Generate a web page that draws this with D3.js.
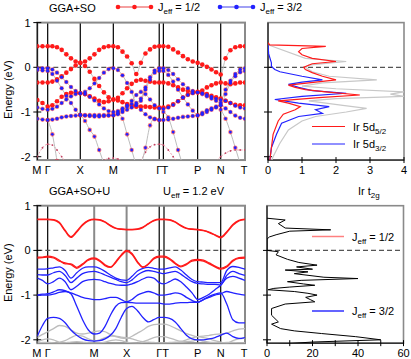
<!DOCTYPE html>
<html>
<head>
<meta charset="utf-8">
<script src="https://cdn.jsdelivr.net/npm/d3@7"></script>
<style>
  body { margin: 0; background: #fff; }
  svg { font-family: "Liberation Sans", Arial, sans-serif; }
</style>
</head>
<body>
<div id="chart"></div>
<script>
// ---- k-path (fraction of path length) ----
const topLabels = ["M", "Γ", "X", "M", "Γ", "T", "P", "N", "T"];
const topKnots = [0, 0.050, 0.207, 0.366, 0.587, 0.607, 0.772, 0.883, 1.0];
const topSteps = [2, 7, 7, 10, 1, 7, 5, 5];

const botLabels = ["M", "Γ", "M", "X", "Γ", "T", "P", "N", "T"];
const botKnots = [0, 0.050, 0.274, 0.430, 0.587, 0.610, 0.772, 0.883, 1.0];
const botSteps = [2, 8, 6, 6, 1, 6, 4, 4];

// ---- GGA+SO bands (eV), one value per k-point ----
const topRed1 = [0.47,0.47,0.47, 0.47,0.45,0.39,0.29,0.2,0.13,0.1, 0.13,0.2,0.29,0.39,0.45,0.47,0.47,
  0.45,0.35,0.24,0.09,-0.15,0.1,0.31,0.4,0.46,0.47, 0.47, 0.46,0.4,0.33,0.25,0.18,0.13,0.1,
  0.06,0.01,-0.05,-0.11,-0.16, 0.2,0.38,0.45,0.47,0.47];
const topRed2 = [-0.34,-0.34,-0.34, -0.32,-0.27,-0.2,-0.12,-0.04,0.04,0.1, 0.03,-0.1,-0.26,-0.42,-0.56,-0.67,-0.72,
  -0.68,-0.58,-0.47,-0.37,-0.3,-0.28,-0.3,-0.32,-0.34,-0.34, -0.34, -0.36,-0.4,-0.45,-0.5,-0.53,-0.55,-0.56,
  -0.52,-0.45,-0.4,-0.36,-0.34, -0.36,-0.38,-0.36,-0.34,-0.34];
const topRed3 = [-0.73,-0.8,-0.88, -0.85,-0.76,-0.66,-0.6,-0.57,-0.57,-0.58, -0.6,-0.65,-0.7,-0.75,-0.78,-0.76,-0.72,
  -0.74,-0.78,-0.82,-0.86,-0.88,-0.88,-0.88,-0.89,-0.9,-0.9, -0.9, -0.88,-0.83,-0.76,-0.68,-0.61,-0.57,-0.55,
  -0.57,-0.6,-0.64,-0.67,-0.7, -0.75,-0.8,-0.84,-0.85,-0.85];
const topBlue1 = [-0.02,-0.02,-0.02, -0.05,-0.12,-0.22,-0.33,-0.44,-0.53,-0.58, -0.55,-0.47,-0.36,-0.24,-0.12,-0.04,-0.02,
  -0.06,-0.18,-0.35,-0.55,-0.8,-0.7,-0.45,-0.22,-0.07,-0.02, -0.02, -0.06,-0.15,-0.27,-0.38,-0.47,-0.53,-0.56,
  -0.58,-0.62,-0.66,-0.7,-0.73, -0.5,-0.3,-0.15,-0.05,-0.02];
const topBlue2 = [-0.06,-0.07,-0.08, -0.15,-0.3,-0.47,-0.64,-0.8,-0.95,-1.06, -1.07,-1.07,-1.07,-1.07,-1.07,-1.07,-1.07,
  -1.05,-1.0,-0.95,-0.9,-0.85,-0.75,-0.5,-0.28,-0.12,-0.08, -0.08, -0.17,-0.32,-0.5,-0.67,-0.83,-0.97,-1.07,
  -1.02,-0.96,-0.92,-0.88,-0.85, -0.6,-0.35,-0.2,-0.11,-0.08];
const topBlue3 = [-1.15,-1.17,-1.18, -1.17,-1.15,-1.12,-1.1,-1.09,-1.08,-1.07, -1.08,-1.09,-1.1,-1.1,-1.09,-1.08,-1.07,
  -1.02,-0.95,-0.88,-0.82,-0.85,-0.95,-1.05,-1.12,-1.16,-1.18, -1.18, -1.17,-1.15,-1.13,-1.11,-1.1,-1.09,-1.08,
  -1.05,-1.0,-0.95,-0.9,-0.85, -0.92,-1.0,-1.08,-1.13,-1.15];
const topBlue4 = [-0.9,-0.93,-0.95, -0.93,-0.88,-0.8,-0.72,-0.65,-0.6,-0.58, -0.6,-0.66,-0.74,-0.83,-0.92,-0.98,-1.0,
  -0.98,-0.92,-0.85,-0.75,-0.62,-0.55,-0.6,-0.72,-0.85,-0.92, -0.93, -0.9,-0.84,-0.76,-0.68,-0.62,-0.58,-0.56,
  -0.6,-0.65,-0.7,-0.75,-0.8, -0.75,-0.8,-0.86,-0.9,-0.92];
const topSteep1 = [null,null,-1.18, -1.5,-2.1,null,null,null,null,null, null,null,null,null,null,null,null,
  -1.02,-1.15,-1.5,-1.85,-2.2,null,null,null,null,null, -1.0, -1.12,-1.45,-1.85,-2.2,null,null,null,
  null,null,null,null,null, null,null,null,null,null];
const topSteep2 = [null,null,null, null,null,null,null,null,null,-1.07, -1.2,-1.4,-1.55,-1.85,-2.15,null,null,
  null,null,null,null,null,-2.2,-1.8,-1.3,-1.15,-1.18, null, null,null,null,null,null,null,null,
  null,null,null,null,-0.95, -1.15,-1.45,-1.8,-2.15,null];
const topLow = [-2.0,-1.8,-1.72, -1.74,-1.85,-2.0,-2.15,null,null,null, null,null,null,-2.15,-2.08,-2.04,-2.03,
  -2.05,-2.1,-2.15,null,null,-2.1,-1.9,-1.78,-1.73,-1.72, -1.74, -1.85,-2.0,-2.15,null,null,null,null,
  null,null,null,-2.1,-2.0, -1.92,-1.87,-1.85,-1.85,-1.85];

// ---- GGA+SO+U bands (eV) ----
const botRed1 = [0.7,0.7,0.7, 0.69,0.63,0.45,0.31,0.43,0.58,0.67,0.7, 0.69,0.64,0.56,0.5,0.48,0.47,
  0.47,0.48,0.52,0.6,0.67,0.7, 0.7, 0.69,0.64,0.56,0.5,0.48,0.47, 0.45,0.41,0.35,0.3, 0.42,0.58,0.67,0.7];
const botRed2 = [0.69,0.69,0.69, 0.68,0.61,0.43,0.29,0.41,0.56,0.66,0.69, 0.68,0.63,0.55,0.49,0.47,0.46,
  0.46,0.47,0.51,0.59,0.66,0.69, 0.69, 0.68,0.63,0.55,0.49,0.47,0.46, 0.44,0.4,0.34,0.28, 0.4,0.56,0.66,0.69];
const botRed3 = [-0.15,-0.15,-0.13, -0.15,-0.22,-0.3,-0.3,-0.38,-0.3,-0.2,-0.17, -0.22,-0.32,-0.37,-0.25,-0.1,0.0,
  -0.07,-0.25,-0.37,-0.3,-0.17,-0.13, -0.13, -0.18,-0.28,-0.35,-0.3,-0.22,-0.2, -0.22,-0.28,-0.35,-0.4, -0.35,-0.22,-0.16,-0.15];
const botRed4 = [-0.17,-0.16,-0.15, -0.17,-0.24,-0.28,-0.32,-0.4,-0.32,-0.22,-0.19, -0.24,-0.34,-0.38,-0.27,-0.12,-0.02,
  -0.09,-0.27,-0.38,-0.31,-0.19,-0.15, -0.15, -0.2,-0.3,-0.37,-0.32,-0.24,-0.22, -0.24,-0.3,-0.37,-0.42, -0.37,-0.24,-0.18,-0.17];
const botBlue1 = [-0.42,-0.42,-0.41, -0.39,-0.37,-0.45,-0.62,-0.5,-0.4,-0.37,-0.37, -0.4,-0.47,-0.55,-0.62,-0.66,-0.67,
  -0.58,-0.46,-0.4,-0.38,-0.4,-0.42, -0.42, -0.39,-0.37,-0.44,-0.55,-0.65,-0.7, -0.71,-0.72,-0.72,-0.72, -0.45,-0.36,-0.38,-0.42];
const botBlue2 = [-0.54,-0.55,-0.55, -0.5,-0.47,-0.56,-0.72,-0.62,-0.52,-0.48,-0.47, -0.5,-0.55,-0.6,-0.65,-0.7,-0.72,
  -0.66,-0.55,-0.48,-0.45,-0.47,-0.5, -0.52, -0.49,-0.47,-0.53,-0.62,-0.7,-0.74, -0.75,-0.76,-0.76,-0.77, -0.56,-0.47,-0.52,-0.56];
const botBlue3 = [-0.62,-0.67,-0.75, -0.7,-0.62,-0.7,-0.88,-0.8,-0.7,-0.66,-0.65, -0.66,-0.7,-0.74,-0.77,-0.78,-0.78,
  -0.75,-0.7,-0.64,-0.6,-0.62,-0.72, -0.75, -0.7,-0.64,-0.7,-0.82,-0.95,-1.1, -1.05,-0.98,-0.88,-0.78, -0.62,-0.58,-0.62,-0.67];
const botBlue4 = [-1.0,-1.0,-1.0, -0.98,-0.94,-0.92,-0.95,-1.0,-1.05,-1.08,-1.1, -1.1,-1.08,-1.05,-1.05,-1.1,-1.15,
  -1.1,-1.0,-0.95,-0.92,-0.95,-1.0, -1.0, -0.98,-0.95,-0.97,-1.05,-1.12,-1.16, -1.1,-1.05,-1.0,-0.97, -0.92,-0.95,-0.98,-1.0];
const botBlue5 = [-1.0,-0.98,-0.97, -0.93,-0.88,-0.9,-0.97,-1.25,-1.55,-1.78,-1.87, -1.85,-1.7,-1.45,-1.25,-1.17,-1.16,
  -1.17,-1.18,-1.18,-1.18,-1.18,-1.18, -1.2, -1.2,-1.18,-1.17,-1.17,-1.16,-1.16, -1.1,-1.03,-0.98,-0.95, -1.2,-1.55,-1.62,-1.62];
const botBlue6 = [-1.92,-1.68,-1.52, -1.5,-1.52,-1.62,-1.78,-1.9,-1.98,-2.02,-2.03, -2.02,-1.98,-1.9,-1.75,-1.5,-1.3,
  -1.25,-1.35,-1.5,-1.6,-1.55,-1.5, -1.5, -1.52,-1.6,-1.75,-1.9,-1.98,-2.0, -2.0,-1.98,-1.95,-1.9, -1.85,-1.93,-1.97,-1.95];
const botGray1 = [-1.95,-1.88,-1.82, -1.75,-1.68,-1.7,-1.78,-1.85,-1.87,-1.85,-1.82, -1.8,-1.82,-1.88,-1.93,-1.96,-1.97,
  -1.92,-1.85,-1.78,-1.7,-1.66,-1.65, -1.65, -1.68,-1.74,-1.8,-1.86,-1.9,-1.93, -1.92,-1.9,-1.88,-1.87, -1.85,-1.8,-1.76,-1.75];
const botGray2 = [-2.05,-2.0,-1.98, -2.0,-2.05,-2.02,-1.95,-1.9,-1.92,-1.98,-2.02, -2.0,-1.95,-1.92,-1.92,-1.94,-1.95,
  -1.98,-2.02,-2.04,-2.0,-1.95,-1.93, -1.93, -1.96,-2.0,-2.03,-2.0,-1.96,-1.93, -1.95,-1.98,-2.02,-2.05, -2.08,-2.02,-1.98,-1.96];
const botGray3 = [-2.07,-2.06,-2.06, -2.07,-2.08,-2.07,-2.05,-2.04,-2.05,-2.07,-2.08, -2.07,-2.05,-2.02,-2.0,-2.02,-2.05,
  -2.07,-2.08,-2.06,-2.05,-2.06,-2.07, -2.07, -2.06,-2.05,-2.05,-2.04,-2.03,-2.0, -2.03,-2.05,-2.06,-2.07, -2.06,-2.06,-2.07,-2.07];

// ---- PDOS, [energy (eV), states] ----
const dos52 = [[0.55,0],[0.5,0.05],[0.47,1.7],[0.42,1.0],[0.35,0.9],[0.28,1.0],[0.2,1.3],[0.13,2.0],[0.08,1.3],
  [0.0,1.05],[-0.05,1.1],[-0.12,1.3],[-0.2,1.6],[-0.28,2.0],[-0.35,1.2],[-0.4,0.6],[-0.45,0.8],[-0.5,1.1],
  [-0.55,1.7],[-0.62,2.7],[-0.68,1.5],[-0.75,0.3],[-0.8,0.6],[-0.88,0.95],[-0.95,0.8],[-1.05,0.45],[-1.2,0.3],
  [-1.5,0.15],[-1.8,0.1],[-2.1,0.05]];
const dos32 = [[0.5,0],[0.3,0.02],[0.1,0.1],[0.02,0.1],[-0.05,0.2],[-0.1,0.35],[-0.2,1.0],[-0.28,1.6],[-0.33,1.0],
  [-0.38,0.6],[-0.45,0.9],[-0.52,1.3],[-0.58,2.3],[-0.65,1.0],[-0.72,0.2],[-0.8,0.9],[-0.88,1.8],[-0.95,1.4],
  [-1.03,1.6],[-1.1,0.9],[-1.25,0.4],[-1.5,0.25],[-1.8,0.1],[-2.1,0.05]];
const dosTot = [[0.5,0.02],[0.2,1.1],[0.13,2.3],[0.05,1.2],[0.0,1.1],[-0.1,1.3],[-0.2,1.8],[-0.28,3.2],[-0.35,1.6],
  [-0.42,1.0],[-0.48,2.0],[-0.55,4.0],[-0.6,3.6],[-0.65,4.0],[-0.7,2.0],[-0.75,1.2],[-0.85,2.2],[-0.92,2.9],
  [-1.0,2.3],[-1.1,1.4],[-1.2,1.0],[-1.4,0.6],[-1.7,0.35],[-2.0,0.15],[-2.1,0.1]];
const dosT2g = [[0.72,0],[0.68,8],[0.6,5],[0.5,8],[0.46,28],[0.43,10],[0.35,4],[0.3,1],[0.25,0],[0.0,0],
  [-0.03,5],[-0.1,4],[-0.2,9],[-0.27,14],[-0.33,22],[-0.37,13],[-0.42,20],[-0.44,8],[-0.48,18],[-0.52,12],
  [-0.6,25],[-0.63,40],[-0.67,15],[-0.7,9],[-0.75,16],[-0.78,21],[-0.82,10],[-0.85,3],[-0.88,0.5],[-0.92,12],
  [-0.96,18],[-1.0,22],[-1.05,17],[-1.1,19],[-1.15,21],[-1.2,8],[-1.3,2],[-1.45,2],[-1.55,4],[-1.6,5],
  [-1.65,2],[-1.75,6],[-1.8,12],[-1.86,24],[-1.93,39],[-2.0,50],[-2.05,20],[-2.1,5]];

const energyTicks = [1, 0, -1, -2];
const dosTopTicks = [0, 1, 2, 3, 4];
const dosBotTicks = [0, 10, 20, 30, 40, 50, 60];

// ---- layout ----
const W = 411, H = 359;
const red = "#ff1a1a", blue = "#2222ff", gray = "#bdbdbd";

const svg = d3.select("#chart").append("svg")
  .attr("width", W).attr("height", H)
  .attr("viewBox", `0 0 ${W} ${H}`);

const kx = d3.scaleLinear().domain([0, 1]).range([37.3, 245]);
const yTop = d3.scaleLinear().domain([-2, 1]).range([156.7, 22.6]);
const yBot = d3.scaleLinear().domain([-2, 1]).range([339.8, 205.7]);
const xDosTop = d3.scaleLinear().domain([0, 4]).range([268, 404]);
const xDosBot = d3.scaleLinear().domain([0, 60]).range([267, 403.5]);
const eMin = -2.075;

function kGrid(knots, steps) {
  const ks = [knots[0]];
  steps.forEach((n, i) => {
    for (let j = 1; j <= n; j++) ks.push(knots[i] + (knots[i + 1] - knots[i]) * j / n);
  });
  return ks;
}
const kTop = kGrid(topKnots, topSteps);
const kBot = kGrid(botKnots, botSteps);

const toPts = (ks, es) => es.map((e, i) => ({ k: ks[i], e }));

function sub(textSel, parts) {
  // parts: [text, isSub]
  parts.forEach(([t, s]) => {
    textSel.append("tspan")
      .attr("font-size", s ? 8 : 11)
      .attr("baseline-shift", s ? "-3" : "0")
      .text(t);
  });
}

// ---- band panel ----
function bandPanel(y, ks, knots, labels, thickIdx, id) {
  const g = svg.append("g");
  const top = y(1), bot = y(eMin);
  g.append("clipPath").attr("id", id).append("rect")
    .attr("x", kx(0)).attr("y", top).attr("width", kx(1) - kx(0)).attr("height", bot - top);

  // vertical high-symmetry lines
  knots.slice(1, -1).forEach((k, i) => {
    const thick = thickIdx.includes(i + 1);
    g.append("line")
      .attr("x1", kx(k)).attr("x2", kx(k)).attr("y1", top).attr("y2", bot)
      .attr("stroke", thick ? "#8a8a8a" : "#000").attr("stroke-width", thick ? 2 : 1.2);
  });
  // fermi level
  g.append("line").attr("x1", kx(0)).attr("x2", kx(1)).attr("y1", y(0)).attr("y2", y(0))
    .attr("stroke", "#555").attr("stroke-width", 1.2).attr("stroke-dasharray", "5,3");

  // frame
  g.append("rect").attr("x", kx(0)).attr("y", top).attr("width", kx(1) - kx(0)).attr("height", bot - top)
    .attr("fill", "none").attr("stroke", "#8a8a8a").attr("stroke-width", 2);
  g.append("line").attr("x1", kx(0)).attr("x2", kx(0)).attr("y1", top).attr("y2", bot)
    .attr("stroke", "#000").attr("stroke-width", 1);

  // y ticks
  energyTicks.forEach(t => {
    g.append("line").attr("x1", kx(0) - 4).attr("x2", kx(0) + 4).attr("y1", y(t)).attr("y2", y(t))
      .attr("stroke", "#000");
    g.append("text").attr("x", 30.5).attr("y", y(t)).attr("text-anchor", "end")
      .attr("dominant-baseline", "central").attr("font-size", 11).text(t);
  });
  g.append("text").attr("transform", `translate(8,${(y(1) + y(-2)) / 2}) rotate(-90)`)
    .attr("text-anchor", "middle").attr("dominant-baseline", "central").attr("font-size", 11)
    .text("Energy (eV)");

  // k labels
  labels.forEach((l, i) => {
    let anchor = "middle", dx = 0;
    if (i === 4) { anchor = "end"; dx = 3; }
    if (i === 5) { anchor = "start"; dx = -1.8; }
    if (i === 0) dx = -0.5;
    if (i === 8) dx = -1;
    g.append("text").attr("x", kx(knots[i]) + dx).attr("y", bot + 10)
      .attr("text-anchor", anchor).attr("dominant-baseline", "central").attr("font-size", 11).text(l);
  });

  const plot = g.append("g").attr("clip-path", `url(#${id})`);
  return plot;
}

const line = (y) => d3.line().defined(d => d.e != null)
  .x(d => kx(d.k)).y(d => y(d.e)).curve(d3.curveMonotoneX);

// ---- top: GGA+SO (fat bands) ----
const pTop = bandPanel(yTop, kTop, topKnots, topLabels, [], "clipTop");
const topMain = [
  { e: topRed1, c: "r" }, { e: topRed2, c: "r" }, { e: topRed3, c: "r" },
  { e: topBlue1, c: "b" }, { e: topBlue2, c: "b" }, { e: topBlue3, c: "b" }, { e: topBlue4, c: "b" },
  { e: topSteep1, c: "s" }, { e: topSteep2, c: "s" }
];
pTop.selectAll("path.low").data([topLow]).join("path")
  .attr("d", es => line(yTop)(toPts(kTop, es)))
  .attr("fill", "none").attr("stroke", "#e58a9a").attr("stroke-width", 0.8).attr("stroke-dasharray", "2,1.5");
pTop.selectAll("circle.low").data(toPts(kTop, topLow).filter(d => d.e != null)).join("circle")
  .attr("cx", d => kx(d.k)).attr("cy", d => yTop(d.e)).attr("r", 0.9).attr("fill", "#c04060");

pTop.selectAll("path.band").data(topMain).join("path")
  .attr("d", b => line(yTop)(toPts(kTop, b.e)))
  .attr("fill", "none").attr("stroke", gray).attr("stroke-width", 1);

const dotsOf = (c) => topMain.filter(b => b.c === c)
  .flatMap(b => toPts(kTop, b.e).filter(d => d.e != null));
// red halo under the mixed bands
pTop.selectAll("circle.halo").data(dotsOf("b").concat(dotsOf("s"))).join("circle")
  .attr("cx", d => kx(d.k)).attr("cy", d => yTop(d.e)).attr("r", 2.3).attr("fill", red).attr("opacity", 0.55);
pTop.selectAll("circle.red").data(dotsOf("r")).join("circle")
  .attr("cx", d => kx(d.k)).attr("cy", d => yTop(d.e)).attr("r", 2.3).attr("fill", red);
pTop.selectAll("circle.blue").data(dotsOf("b")).join("circle")
  .attr("cx", d => kx(d.k)).attr("cy", d => yTop(d.e)).attr("r", 1.7).attr("fill", blue);
pTop.selectAll("circle.steep").data(dotsOf("s")).join("circle")
  .attr("cx", d => kx(d.k)).attr("cy", d => yTop(d.e)).attr("r", 1.4).attr("fill", blue);

// legend (top)
svg.append("text").attr("x", 49).attr("y", 7.5).attr("dominant-baseline", "central")
  .attr("font-size", 11).text("GGA+SO");
[[118, red, "#f08080", "1/2"], [220, blue, "#8080f0", "3/2"]].forEach(([x0, c, lc, v]) => {
  svg.append("line").attr("x1", x0).attr("x2", x0 + 33).attr("y1", 7).attr("y2", 7)
    .attr("stroke", lc).attr("stroke-width", 1.5);
  [0, 16.5, 33].forEach(dx => svg.append("circle").attr("cx", x0 + dx).attr("cy", 7).attr("r", 2.3).attr("fill", c));
  const t = svg.append("text").attr("x", x0 + 40).attr("y", 11);
  sub(t, [["J", 0], ["eff", 1], [` = ${v}`, 0]]);
});

// ---- bottom: GGA+SO+U ----
const pBot = bandPanel(yBot, kBot, botKnots, botLabels, [2, 3], "clipBot");
const botSets = [
  { e: botGray1, c: gray }, { e: botGray2, c: gray }, { e: botGray3, c: gray },
  { e: botBlue1, c: blue }, { e: botBlue2, c: blue }, { e: botBlue3, c: blue },
  { e: botBlue4, c: blue }, { e: botBlue5, c: blue }, { e: botBlue6, c: blue },
  { e: botRed1, c: red }, { e: botRed2, c: red }, { e: botRed3, c: red }, { e: botRed4, c: red }
];
pBot.selectAll("path.band").data(botSets).join("path")
  .attr("d", b => line(yBot)(toPts(kBot, b.e)))
  .attr("fill", "none").attr("stroke", b => b.c).attr("stroke-width", 1.3);

svg.append("text").attr("x", 49).attr("y", 191).attr("dominant-baseline", "central")
  .attr("font-size", 11).text("GGA+SO+U");
sub(svg.append("text").attr("x", 163).attr("y", 195), [["U", 0], ["eff", 1], [" = 1.2 eV", 0]]);

// ---- DOS panels ----
function dosPanel(x, y, ticks, labelTicks, id) {
  const g = svg.append("g");
  const top = y(1), bot = y(eMin);
  const x0 = x.range()[0], x1 = x.range()[1];
  g.append("clipPath").attr("id", id).append("rect")
    .attr("x", x0).attr("y", top).attr("width", x1 - x0).attr("height", bot - top);
  g.append("line").attr("x1", x0).attr("x2", x1).attr("y1", y(0)).attr("y2", y(0))
    .attr("stroke", "#555").attr("stroke-width", 1.2).attr("stroke-dasharray", "5,3");
  g.append("rect").attr("x", x0).attr("y", top).attr("width", x1 - x0).attr("height", bot - top)
    .attr("fill", "none").attr("stroke", "#8a8a8a").attr("stroke-width", 1.6);
  g.append("line").attr("x1", x0).attr("x2", x0).attr("y1", top).attr("y2", bot).attr("stroke", "#000");
  g.append("line").attr("x1", x0).attr("x2", x1).attr("y1", bot).attr("y2", bot).attr("stroke", "#000");
  [0, -1, -2].forEach(t => g.append("line").attr("x1", x0 - 4).attr("x2", x0 + 4)
    .attr("y1", y(t)).attr("y2", y(t)).attr("stroke", "#000"));
  ticks.forEach(t => {
    g.append("line").attr("x1", x(t)).attr("x2", x(t)).attr("y1", bot - 3).attr("y2", bot + 3).attr("stroke", "#000");
  });
  labelTicks.forEach(t => {
    g.append("text").attr("x", x(t)).attr("y", bot + 10).attr("text-anchor", "middle")
      .attr("dominant-baseline", "central").attr("font-size", 11).text(t);
  });
  return g.append("g").attr("clip-path", `url(#${id})`);
}

const dosLine = (x, y) => d3.line().x(d => x(d[1])).y(d => y(d[0]));

const dTop = dosPanel(xDosTop, yTop, dosTopTicks, dosTopTicks, "clipDosTop");
[[dosTot, "#c8c8c8"], [dos32, blue], [dos52, red]].forEach(([d, c]) => {
  dTop.append("path").attr("d", dosLine(xDosTop, yTop)(d))
    .attr("fill", "none").attr("stroke", c).attr("stroke-width", 1.2);
});
[[126.5, red, "5/2"], [144, blue, "3/2"]].forEach(([yy, c, v]) => {
  svg.append("line").attr("x1", 312).attr("x2", 345).attr("y1", yy).attr("y2", yy)
    .attr("stroke", c).attr("stroke-width", 1.2);
  sub(svg.append("text").attr("x", 353).attr("y", yy + 4), [["Ir 5d", 0], [v, 1]]);
});

const dBot = dosPanel(xDosBot, yBot, dosBotTicks, [0, 20, 40, 60], "clipDosBot");
dBot.append("path").attr("d", dosLine(xDosBot, yBot)(dosT2g))
  .attr("fill", "none").attr("stroke", "#000").attr("stroke-width", 1);
sub(svg.append("text").attr("x", 358).attr("y", 195), [["Ir  t", 0], ["2g", 1]]);
[[236.5, "#ff8080", "1/2"], [311, "#3030ff", "3/2"]].forEach(([yy, c, v]) => {
  svg.append("line").attr("x1", 312).attr("x2", 344).attr("y1", yy).attr("y2", yy)
    .attr("stroke", c).attr("stroke-width", 1.5);
  sub(svg.append("text").attr("x", 352).attr("y", yy + 4), [["J", 0], ["eff", 1], [` = ${v}`, 0]]);
});
</script>
</body>
</html>
